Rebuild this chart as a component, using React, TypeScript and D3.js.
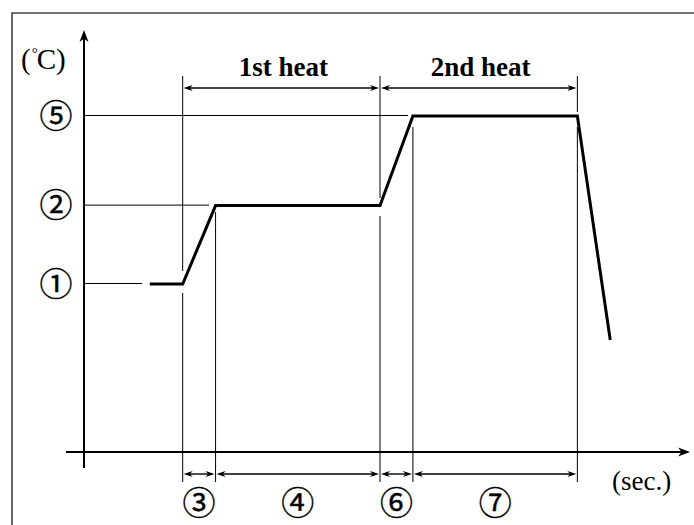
import { useEffect, useRef } from 'react';
import * as d3 from 'd3';

// ── Data (time in arbitrary units, temperature in arbitrary units) ──

const PROFILE_T = [12, 18, 24, 54, 60, 90, 96];
const PROFILE_TEMP = [150, 150, 220, 220, 300, 300, 100];

// reference levels on the y axis: label, temperature, where the guide stops (time)
const LEVEL_LABELS = ['①', '②', '⑤'];
const LEVEL_TEMPS = [150, 220, 300];
const LEVEL_ENDS = [10.6, 22.8, 59.1];

// phase boundaries (time)
const BOUNDS = [18, 24, 54, 60, 90];
const PHASE_LABELS = ['③', '④', '⑥', '⑦'];

const HEAT_LABELS = ['1st heat', '2nd heat'];
const HEAT_SPANS: [number, number][] = [
  [18, 54],
  [54, 90],
];

const W = 694;
const H = 525;
const SERIF = '"Liberation Serif", "Times New Roman", serif';
const CIRCLED = '"Noto Sans CJK JP", "DejaVu Sans", sans-serif';

// small filled chevron arrowhead, tip at (x, y), pointing along dir
function arrowHead(x: number, y: number, dir: 'l' | 'r' | 'u', len = 8, half = 3) {
  if (dir === 'u') {
    return `M${x},${y} L${x - half},${y + len} L${x},${y + len * 0.7} L${x + half},${y + len} Z`;
  }
  const s = dir === 'r' ? -1 : 1;
  return `M${x},${y} L${x + s * len},${y - half} L${x + s * len * 0.7},${y} L${x + s * len},${y + half} Z`;
}

export default function App() {
  const svgRef = useRef<SVGSVGElement>(null);

  useEffect(() => {
    const svgEl = svgRef.current;
    if (!svgEl) return;
    const svg = d3.select(svgEl);
    svg.selectAll('*').remove();

    const x = d3.scaleLinear().domain([0, 110]).range([84, 687]);
    const y = d3.scaleLinear().domain([0, 300]).range([452, 116]);

    // ── frame (only top and left edges visible) ──
    svg
      .append('path')
      .attr('d', `M12,${H} L12,13 L${W},13`)
      .attr('fill', 'none')
      .attr('stroke', '#444')
      .attr('stroke-width', 1.6);

    const g = svg.append('g');

    // ── axes ──
    g.append('line')
      .attr('x1', x(0))
      .attr('x2', x(0))
      .attr('y1', 468)
      .attr('y2', 34)
      .attr('stroke', '#000')
      .attr('stroke-width', 2);
    g.append('path').attr('d', arrowHead(x(0), 30, 'u', 12, 4.5)).attr('fill', '#000');

    g.append('line')
      .attr('x1', 66)
      .attr('x2', 686)
      .attr('y1', y(0))
      .attr('y2', y(0))
      .attr('stroke', '#000')
      .attr('stroke-width', 2);
    g.append('path').attr('d', arrowHead(690, y(0), 'r', 12, 4.5)).attr('fill', '#000');

    // ── reference level lines ──
    LEVEL_TEMPS.forEach((t, i) => {
      g.append('line')
        .attr('x1', x(0))
        .attr('x2', x(LEVEL_ENDS[i]))
        .attr('y1', y(t) - 0.5)
        .attr('y2', y(t) - 0.5)
        .attr('stroke', '#000')
        .attr('stroke-width', 1);
      g.append('text')
        .attr('x', 56)
        .attr('y', y(t))
        .attr('dy', '0.36em')
        .attr('text-anchor', 'middle')
        .attr('font-family', CIRCLED)
        .attr('font-size', 33)
        .attr('stroke', '#000')
        .attr('stroke-width', 0.4)
        .text(LEVEL_LABELS[i]);
    });

    // ── vertical phase guides (broken where the profile passes) ──
    const guideSegs: [number, number, number][] = [
      [BOUNDS[0], 76, 271],
      [BOUNDS[0], 293, 482],
      [BOUNDS[1], 212, 482],
      [BOUNDS[2], 76, 198],
      [BOUNDS[2], 216, 482],
      [BOUNDS[3], 127, 482],
      [BOUNDS[4], 76, 112],
      [BOUNDS[4], 127, 482],
    ];
    guideSegs.forEach(([t, y1, y2]) => {
      g.append('line')
        .attr('x1', x(t))
        .attr('x2', x(t))
        .attr('y1', y1)
        .attr('y2', y2)
        .attr('stroke', '#000')
        .attr('stroke-width', 1);
    });

    // ── temperature profile ──
    const pts = PROFILE_T.map((t, i) => [x(t), y(PROFILE_TEMP[i])] as [number, number]);
    g.append('path')
      .attr('d', d3.line()(pts))
      .attr('fill', 'none')
      .attr('stroke', '#000')
      .attr('stroke-width', 3)
      .attr('stroke-linejoin', 'miter');

    // ── dimension arrows ──
    const dim = (t0: number, t1: number, yy: number) => {
      const a = x(t0) + 1;
      const b = x(t1) - 1;
      g.append('line')
        .attr('x1', a + 4)
        .attr('x2', b - 4)
        .attr('y1', yy)
        .attr('y2', yy)
        .attr('stroke', '#000')
        .attr('stroke-width', 1.4);
      g.append('path').attr('d', arrowHead(a, yy, 'l', 9, 3)).attr('fill', '#000');
      g.append('path').attr('d', arrowHead(b, yy, 'r', 9, 3)).attr('fill', '#000');
    };

    HEAT_SPANS.forEach(([t0, t1], i) => {
      dim(t0, t1, 88);
      g.append('text')
        .attr('x', (x(t0) + x(t1)) / 2 + 2)
        .attr('y', 76)
        .attr('text-anchor', 'middle')
        .attr('font-family', SERIF)
        .attr('font-weight', 'bold')
        .attr('font-size', 27)
        .text(HEAT_LABELS[i]);
    });

    PHASE_LABELS.forEach((lab, i) => {
      const t0 = BOUNDS[i];
      const t1 = BOUNDS[i + 1];
      dim(t0, t1, 474);
      g.append('text')
        .attr('x', (x(t0) + x(t1)) / 2)
        .attr('y', 503)
        .attr('dy', '0.36em')
        .attr('text-anchor', 'middle')
        .attr('font-family', CIRCLED)
        .attr('font-size', 33)
        .attr('stroke', '#000')
        .attr('stroke-width', 0.4)
        .text(lab);
    });

    // ── axis unit labels ──
    const unitY = g
      .append('text')
      .attr('x', 21)
      .attr('y', 69)
      .attr('font-family', SERIF)
      .attr('font-size', 29);
    unitY.append('tspan').text('(');
    unitY.append('tspan').attr('font-size', 15).attr('dy', -11).attr('dx', 1).text('°');
    unitY.append('tspan').attr('dy', 11).attr('dx', -1).text('C)');

    g.append('text')
      .attr('x', 612)
      .attr('y', 490)
      .attr('font-family', SERIF)
      .attr('font-size', 27)
      .text('(sec.)');

    return () => {
      d3.select(svgEl).selectAll('*').remove();
    };
  }, []);

  return (
    <div style={{ position: 'fixed', left: 0, top: 0, width: W, height: H, background: '#fff' }}>
      <svg ref={svgRef} width={W} height={H} style={{ display: 'block' }} />
    </div>
  );
}
